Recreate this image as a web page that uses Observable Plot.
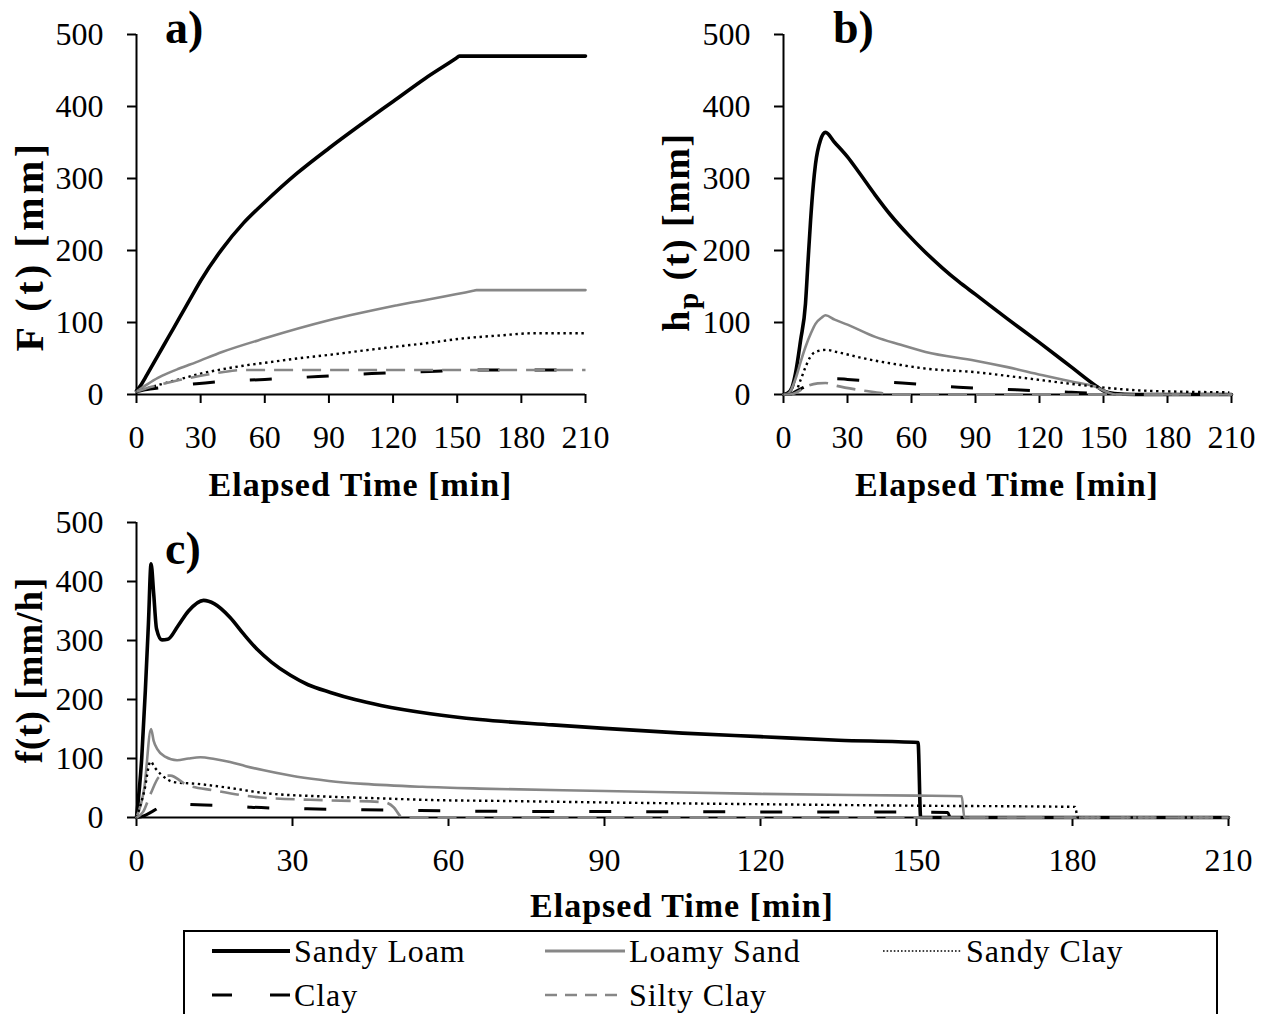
<!DOCTYPE html>
<html><head><meta charset="utf-8">
<script src="https://cdn.jsdelivr.net/npm/d3@7"></script>
<script src="https://cdn.jsdelivr.net/npm/@observablehq/plot@0.6"></script>
<style>
html,body{margin:0;padding:0;background:#fff;width:1266px;height:1014px;overflow:hidden}
#fig{position:relative;width:1266px;height:1014px;font-family:"Liberation Serif",serif}
.panel{position:absolute}
.panel svg{overflow:visible;background:transparent}
.panel svg text{font-family:"Liberation Serif",serif;font-size:32px;fill:#000}
.panel svg [aria-label$="axis tick"] path,.panel svg .tick line{stroke-width:2px;stroke:#000}
#legend{position:absolute;left:183px;top:930px;width:1031px;height:120px;border:2px solid #000;background:#fff}
#legend svg{position:absolute;left:0;top:0}
</style></head>
<body><div id="fig"><div id="legend"></div></div>
<script>
// ---------- tick labels / categories ----------
const timeTicks = [0, 30, 60, 90, 120, 150, 180, 210];
const valueTicks = [0, 100, 200, 300, 400, 500];
const soils = ["Sandy Loam", "Loamy Sand", "Sandy Clay", "Clay", "Silty Clay"];

// ---------- panel a: F(t) [mm], [time, value] ----------
const aSandyLoam = [[0,5],[2,13],[5,28],[10,54],[15,80],[20,106],[25,132],[30,158],[40,202],[50,238],[60,267],[75,307],[90,342],[105,375],[120,407],[135,439],[149.5,467],[151,470],[210,470]];
const aLoamySand = [[0,4],[5,14],[10,23],[15,30],[20,36],[28,45],[40,59],[60,78],[90,103],[122,124],[157.5,144],[159,145],[210,145]];
const aSandyClay = [[0,4],[10,13],[20,21],[30,29],[40,35],[50,40],[60,44],[75,50],[90,55],[106,61],[120,66],[135,71],[153,78],[170,82],[185,85],[210,85]];
const aClay = [[0,4],[5,7],[10,9],[20,13],[28,15],[40,18],[60,21],[85,25],[110,29],[137,32],[155,34],[210,34]];
const aSiltyClay = [[0,4],[5,9],[10,13],[20,20],[30,26],[40,31],[50,34],[210,34]];

// ---------- panel b: hp(t) [mm] ----------
const bSandyLoam = [[0,0],[2,2],[4,10],[5.6,29],[8,75],[10.3,126],[11.5,185],[12.7,242],[14,292],[15,320],[17.3,353],[19.7,364],[24,350],[30,330],[35,310],[43,277],[50,250],[58.7,221],[66,199],[74.4,176],[82,157],[90,139],[105,105],[120,72],[135,38],[146,13],[150,5],[155,1.5],[165,0],[210,0]];
const bLoamySand = [[0,0],[2,1],[3.3,5],[6,25],[8,45],[10.3,66],[13,86],[15,98],[18,107],[19.7,110],[24,104],[30,97],[43,80],[55,69],[66.6,59],[90,47],[105,38],[121,27],[135,18],[146,11],[152,3],[156,0],[210,0]];
const bSandyClay = [[0,0],[4,0.5],[5.6,3],[8,20],[10.3,38],[12.5,52],[15,59],[19.7,62],[25,59],[35,52],[43,47],[55,41],[66.6,36],[90,31],[110,24],[137,14],[146,11],[160,7],[168,5.5],[185,4],[209,3]];
const bClay = [[0,0],[3,0],[5,3],[9.4,10],[15,17],[20,21],[25,22],[30,21],[42,18.5],[55.6,16],[82,10],[109,6.5],[135,3],[150,1],[160,0],[210,0]];
const bSiltyClay = [[0,0],[3,0],[5.6,2],[8,6],[11.9,12.5],[16,15.5],[19.7,16],[25,12],[35,6.5],[46,2],[50,0],[210,0]];

// ---------- panel c: f(t) [mm/h] ----------
const cSandyLoam = [[0,0],[1,100],[1.7,215],[2.3,330],[2.8,430],[3.3,380],[3.85,320],[4.9,301],[6,302],[8,325],[10,350],[12.9,368],[15,362],[18,339],[20.5,312],[23.2,285],[26,263],[29.6,241],[33,225],[37.3,212],[42,200],[47,190],[56.5,176],[66,166],[80,157],[90,151],[105,143],[120,137],[135,131],[150.3,127],[150.8,0],[210,0]];
const cLoamySand = [[0,0],[1.5,50],[2.8,150],[3.3,130],[4,116],[5.5,103],[7.8,97],[10,100],[12.3,102],[15,99],[18,94],[21,87],[24.5,80],[30.9,69],[37,62],[43.7,57],[55,52],[66,49],[90,45],[120,40],[150,37],[158.7,36],[159.2,0],[210,0]];
const cSandyClay = [[0,0],[1.5,45],[2.7,95],[3.5,85],[4.6,74],[7.2,60],[11.7,57],[18,50],[25,41],[35,36],[45,33],[60,29],[66,28.5],[90,25.5],[120,22.5],[150,20],[180.5,18],[181,0],[210,0]];
const cClay = [[0,0],[1.5,3],[3,10],[5,20],[7,24],[9,23],[11.7,21.5],[20,19],[22,17.5],[32.8,14.7],[43.7,13],[54.6,12],[64.8,10.7],[90,10],[120,9.5],[150,9],[156,8.5],[156.5,0],[210,0]];
const cSiltyClay = [[0,0],[1.3,10],[2.7,40],[4.6,70],[6.5,71],[9.7,55],[14.9,46],[23.8,34],[37.3,29],[47.5,26],[49.5,17],[50.8,2],[51.5,0],[210,0]];

// ---------- styles ----------
const GRAY = "#878787";
const lineStyle = {
  "Sandy Loam": {stroke: "#000", strokeWidth: 3.6},
  "Loamy Sand": {stroke: GRAY, strokeWidth: 2.6},
  "Sandy Clay": {stroke: "#000", strokeWidth: 2.4, strokeDasharray: "2.4 3.6", strokeLinecap: "butt"},
  "Clay": {stroke: "#000", strokeWidth: 3, strokeDasharray: "22 35", strokeLinecap: "butt"},
  "Silty Clay": {stroke: GRAY, strokeWidth: 2.6, strokeDasharray: "19 9", strokeLinecap: "butt"}
};

function makePanel(seriesList, o) {
  const marks = [
    Plot.ruleX([0], {stroke: "#000", strokeWidth: 2}),
    Plot.ruleY([0], {stroke: "#000", strokeWidth: 2})
  ];
  seriesList.forEach((pts, i) => {
    marks.push(Plot.line(pts, {x: d => d[0], y: d => d[1], curve: "monotone-x", strokeLinejoin: "round", ...lineStyle[soils[i]]}));
  });
  return Plot.plot({
    width: o.width, height: o.height,
    marginLeft: o.ml, marginRight: o.mr, marginTop: o.mt, marginBottom: o.mb,
    x: {domain: [0, 210], ticks: timeTicks, tickSize: 9, tickPadding: 22, label: null, tickFormat: d => String(d)},
    y: {domain: [0, 500], ticks: valueTicks, tickSize: 9, tickPadding: 24, label: null, tickFormat: d => String(d)},
    style: {background: "transparent", color: "#000", fontFamily: "Liberation Serif", fontSize: "32px", overflow: "visible"},
    marks
  });
}

function place(svg, left, top) {
  const div = document.createElement("div");
  div.className = "panel";
  div.style.left = left + "px";
  div.style.top = top + "px";
  div.appendChild(svg);
  document.getElementById("fig").insertBefore(div, document.getElementById("legend"));
  return d3.select(svg);
}

function addText(sel, x, y, parts, size, rotate, anchor = "middle", spacing = 1) {
  const t = sel.append("text")
    .attr("transform", `translate(${x},${y})` + (rotate ? " rotate(-90)" : ""))
    .attr("text-anchor", anchor)
    .attr("style", `font-family:'Liberation Serif',serif;font-size:${size}px;font-weight:bold;letter-spacing:${spacing}px;fill:#000`);
  parts.forEach(p => {
    const ts = t.append("tspan").text(p.text);
    if (p.dy) ts.attr("dy", p.dy);
    if (p.size) ts.attr("style", `font-size:${p.size}px`);
  });
  return t;
}

// panel a
const svgA = makePanel([aSandyLoam, aLoamySand, aSandyClay, aClay, aSiltyClay], {width: 610, height: 520, ml: 136, mr: 25, mt: 34, mb: 126});
const sa = place(svgA, 0, 0);
addText(sa, 43, 246, [{text: "F (t) [mm]"}], 40, true, "middle", 3.5);
addText(sa, 360.5, 496, [{text: "Elapsed Time [min]"}], 34, false);
addText(sa, 165, 43, [{text: "a)"}], 46, false, "start", 0);

// panel b
const svgB = makePanel([bSandyLoam, bLoamySand, bSandyClay, bClay, bSiltyClay], {width: 616, height: 520, ml: 133, mr: 35, mt: 34, mb: 126});
const sb = place(svgB, 650, 0);
addText(sb, 39, 232, [{text: "h"}, {text: "p", dy: 9, size: 29}, {text: " (t) [mm]", dy: -9}], 38, true, "middle", 1.5);
addText(sb, 357, 496, [{text: "Elapsed Time [min]"}], 34, false);
addText(sb, 183, 43, [{text: "b)"}], 46, false, "start", 0);

// panel c
const svgC = makePanel([cSandyLoam, cLoamySand, cSandyClay, cClay, cSiltyClay], {width: 1266, height: 430, ml: 136, mr: 38, mt: 17, mb: 118});
const sc = place(svgC, 0, 505);
addText(sc, 42, 165, [{text: "f(t) [mm/h]"}], 37, true);
addText(sc, 682, 412, [{text: "Elapsed Time [min]"}], 34, false);
addText(sc, 165, 59, [{text: "c)"}], 46, false, "start", 0);

// legend
const legendPos = [[27, 19], [360, 19], [698, 19], [27, 63], [360, 63]];
const legendSample = {
  "Sandy Loam": {stroke: "#000", w: 4, dash: null, len: 78},
  "Loamy Sand": {stroke: GRAY, w: 3, dash: null, len: 80},
  "Sandy Clay": {stroke: "#000", w: 1.6, dash: "1.6 2", len: 79},
  "Clay": {stroke: "#000", w: 3, dash: "20 38", len: 78},
  "Silty Clay": {stroke: GRAY, w: 2.5, dash: "12 8", len: 80}
};
const lg = d3.select("#legend").append("svg").attr("width", 1031).attr("height", 120);
soils.forEach((s, i) => {
  const [x, y] = legendPos[i];
  const st = legendSample[s];
  lg.append("line").attr("x1", x).attr("x2", x + st.len).attr("y1", y).attr("y2", y)
    .attr("stroke", st.stroke).attr("stroke-width", st.w).attr("stroke-dasharray", st.dash);
  lg.append("text").attr("x", x + st.len + 4).attr("y", y + 10.5).text(s)
    .attr("style", "font-family:'Liberation Serif',serif;font-size:32px;letter-spacing:0.9px;fill:#000");
});
</script>
</body></html>
